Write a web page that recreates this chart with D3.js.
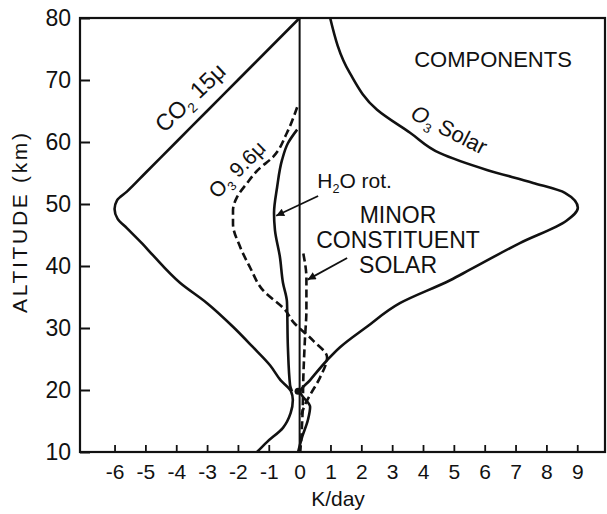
<!DOCTYPE html>
<html>
<head>
<meta charset="utf-8">
<script src="https://cdn.jsdelivr.net/npm/d3@7"></script>
<style>
  html, body { margin: 0; padding: 0; background: #fff; }
  svg { display: block; }
  text { font-family: "Liberation Sans", Arial, Helvetica, sans-serif; fill: #111; }
</style>
</head>
<body>
<svg id="chart" width="607" height="514"></svg>
<script>
// ---------- DATA (K/day, altitude km) ----------
const xTickValues = [-6, -5, -4, -3, -2, -1, 0, 1, 2, 3, 4, 5, 6, 7, 8, 9];
const yTickValues = [10, 20, 30, 40, 50, 60, 70, 80];

const co2Rate = [0, -1, -2, -3, -4, -5, -5.6, -5.92, -6.0, -5.9, -5.6, -5.1, -4.75, -3.88, -3.0, -2.16, -1.51, -0.96, -0.62, -0.28, -0.22, -0.29, -0.54, -1.06, -1.38];
const co2Alt  = [80, 75, 70, 65, 60, 55, 52.0, 50.6, 49.2, 47.6, 46.1, 43.6, 41.7, 37.3, 34.0, 30.2, 26.9, 24.0, 21.6, 19.8, 18.4, 16.3, 13.9, 11.6, 10];

const o3SolarRate = [0.99, 1.63, 2.51, 3.58, 4.55, 6.07, 7.57, 8.6, 9.02, 8.65, 7.14, 5.52, 4.88, 3.25, 2.18, 1.31, 0.89, 0.34, 0.02, 0.34, 0.27, 0.08, -0.05];
const o3SolarAlt  = [80, 71.1, 65.2, 61.5, 58.2, 55.5, 53.4, 51.8, 49.4, 47.3, 43.7, 39.4, 37.7, 34.0, 30.2, 26.9, 24.8, 21.6, 19.7, 17.3, 15.2, 12.4, 10];

const o3IrRate = [-0.08, -0.41, -0.86, -1.35, -1.70, -2.03, -2.16, -2.16, -1.93, -1.61, -1.19, -0.47, -0.21, 0.43, 0.89, 0.66, 0.34, 0.17, 0.06];
const o3IrAlt  = [65.6, 61.5, 57.6, 55.5, 53.4, 51.1, 49.0, 46.8, 43.1, 39.8, 36.1, 32.9, 31.0, 28.0, 25.3, 22.0, 19.2, 17.6, 16.0];

const h2oRate = [-0.08, -0.38, -0.57, -0.73, -0.83, -0.80, -0.64, -0.54, -0.41, -0.38, -0.31, -0.25];
const h2oAlt  = [62.0, 59.8, 57.1, 52.7, 48.5, 45.8, 41.5, 37.3, 34.2, 26.9, 20.8, 19.8];

const minorRate = [0.12, 0.22, 0.22, 0.17, 0.12, 0.10, 0.05, 0.02];
const minorAlt  = [42, 38, 33, 28, 22, 17, 12, 10];

// ---------- LAYOUT ----------
const svg = d3.select("#chart");
const x = d3.scaleLinear().domain([-7.12, 9.9]).range([80, 605]);
const y = d3.scaleLinear().domain([10, 80]).range([452, 18]);

const zip = (a, b) => a.map((v, i) => [v, b[i]]);
const line = d3.line().x(d => x(d[0])).y(d => y(d[1])).curve(d3.curveMonotoneY);

// Frame
svg.append("rect")
  .attr("x", x.range()[0]).attr("y", y.range()[1])
  .attr("width", x.range()[1] - x.range()[0])
  .attr("height", y.range()[0] - y.range()[1])
  .attr("fill", "none").attr("stroke", "#111").attr("stroke-width", 2.2);

// Axes
const yAxis = d3.axisLeft(y).tickValues(yTickValues).tickSizeInner(-10).tickSizeOuter(0).tickPadding(9);
const gy = svg.append("g").attr("transform", `translate(${x.range()[0]},0)`).call(yAxis);
gy.select(".domain").remove();
gy.selectAll(".tick line").attr("stroke", "#111").attr("stroke-width", 2);
gy.selectAll(".tick text").attr("font-size", 23).attr("fill", "#111")
  .style("font-family", '"Liberation Sans", Arial, sans-serif');

const xAxis = d3.axisBottom(x).tickValues(xTickValues).tickSizeInner(-7).tickSizeOuter(0).tickPadding(12)
  .tickFormat(d => d < 0 ? "-" + Math.abs(d) : String(d));
const gx = svg.append("g").attr("transform", `translate(0,${y.range()[0]})`).call(xAxis);
gx.select(".domain").remove();
gx.selectAll(".tick line").attr("stroke", "#111").attr("stroke-width", 1.8);
gx.selectAll(".tick text").attr("font-size", 21).attr("fill", "#111")
  .style("font-family", '"Liberation Sans", Arial, sans-serif');

// Zero line
svg.append("line")
  .attr("x1", x(0)).attr("x2", x(0)).attr("y1", y(10)).attr("y2", y(80))
  .attr("stroke", "#111").attr("stroke-width", 2);

// Curves
const curves = [
  { data: zip(co2Rate, co2Alt), dash: null },
  { data: zip(o3SolarRate, o3SolarAlt), dash: null },
  { data: zip(h2oRate, h2oAlt), dash: null },
  { data: zip(o3IrRate, o3IrAlt), dash: "8,4" },
  { data: zip(minorRate, minorAlt), dash: "8,4" }
];
svg.selectAll("path.curve").data(curves).enter().append("path")
  .attr("class", "curve")
  .attr("d", d => line(d.data))
  .attr("fill", "none").attr("stroke", "#111").attr("stroke-width", 2.6)
  .attr("stroke-linejoin", "round")
  .attr("stroke-dasharray", d => d.dash);

// Junction blob near 20 km
svg.append("circle").attr("cx", x(-0.05)).attr("cy", y(19.8)).attr("r", 3.5).attr("fill", "#111");

// Arrow marker
svg.append("defs").append("marker")
  .attr("id", "arr").attr("viewBox", "0 0 10 10").attr("refX", 10).attr("refY", 5)
  .attr("markerWidth", 11).attr("markerHeight", 8).attr("markerUnits", "userSpaceOnUse")
  .attr("orient", "auto")
  .append("path").attr("d", "M0,0 L10,5 L0,10 z").attr("fill", "#111");

const arrows = [
  { from: [0.6, 51.3], to: [-0.76, 48.1] },
  { from: [1.54, 41.3], to: [0.26, 37.8] }
];
svg.selectAll("line.arrow").data(arrows).enter().append("line")
  .attr("class", "arrow")
  .attr("x1", d => x(d.from[0])).attr("y1", d => y(d.from[1]))
  .attr("x2", d => x(d.to[0])).attr("y2", d => y(d.to[1]))
  .attr("stroke", "#111").attr("stroke-width", 1.8).attr("marker-end", "url(#arr)");

// Text helpers
function label(px, py, parts, size, rotate, anchor) {
  const t = svg.append("text")
    .attr("transform", `translate(${px},${py}) rotate(${rotate || 0})`)
    .attr("text-anchor", anchor || "start")
    .attr("font-size", size);
  parts.forEach(p => {
    const s = t.append("tspan").text(p.t);
    if (p.sub) s.attr("font-size", size * 0.6).attr("dy", size * 0.25);
    if (p.back) s.attr("dy", -size * 0.25);
    if (p.italic) s.attr("font-style", "italic");
  });
  return t;
}

label(x(-3.55), y(67.2), [{t: "CO"}, {t: "2", sub: true}, {t: " 15μ", back: true}], 23, -44, "middle")
  .attr("dy", "0.35em");
label(x(-2.03), y(55.6), [{t: "O"}, {t: "3", sub: true}, {t: " 9.6μ", back: true}], 21, -45, "middle")
  .attr("dy", "0.35em");
label(x(4.85), y(62.0), [{t: "O", italic: true}, {t: "3", sub: true}, {t: " Solar", back: true}], 22, 27, "middle")
  .attr("dy", "0.35em");
label(x(6.27), y(72.1), [{t: "COMPONENTS"}], 22, 0, "middle");
label(x(0.57), y(52.6), [{t: "H"}, {t: "2", sub: true}, {t: "O rot.", back: true}], 21, 0, "start");
label(x(3.19), y(46.9), [{t: "MINOR"}], 23, 0, "middle");
label(x(3.19), y(42.9), [{t: "CONSTITUENT"}], 23, 0, "middle");
label(x(3.19), y(38.9), [{t: "SOLAR"}], 23, 0, "middle");

// Axis titles
svg.append("text").attr("x", 338).attr("y", 506).attr("text-anchor", "middle")
  .attr("font-size", 21).text("K/day");
svg.append("text").attr("transform", "translate(27,223) rotate(-90)")
  .attr("text-anchor", "middle").attr("font-size", 21)
  .attr("textLength", 180).attr("lengthAdjust", "spacing")
  .text("ALTITUDE (km)");
</script>
</body>
</html>
